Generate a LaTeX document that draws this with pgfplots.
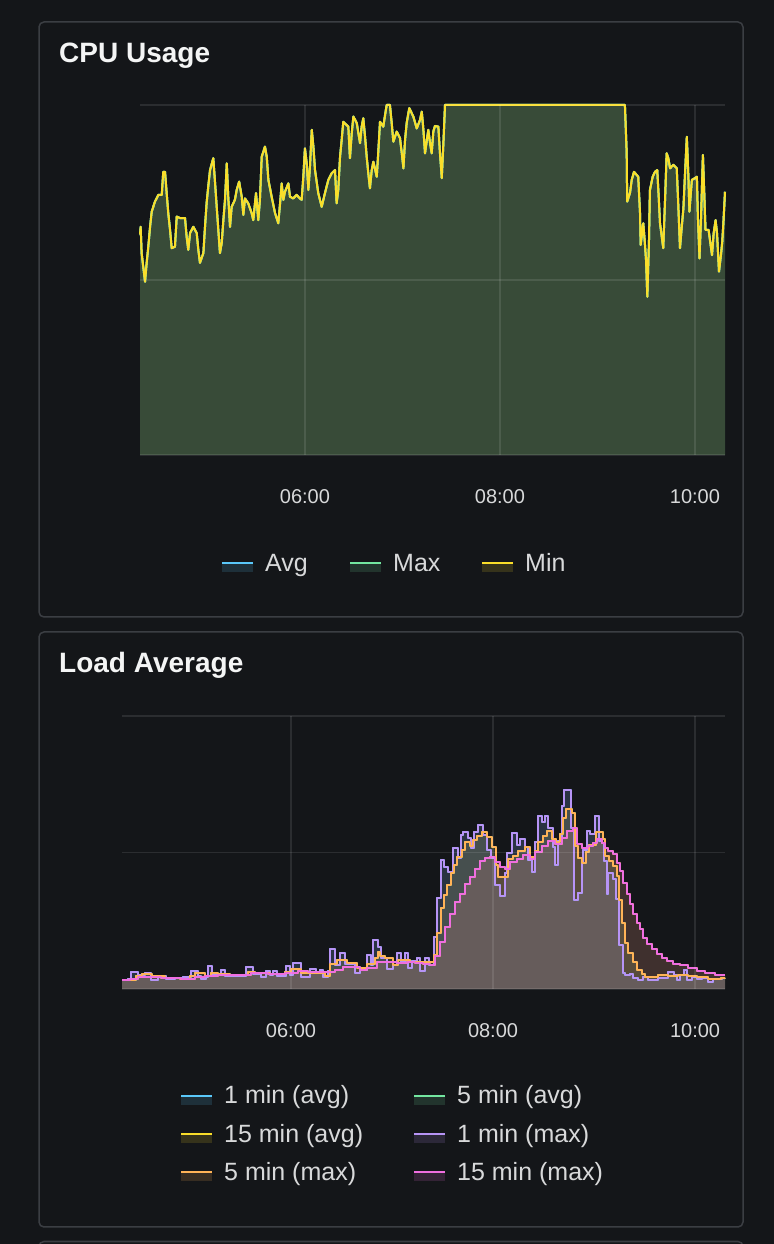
\documentclass[border=0pt]{standalone}
\usepackage{pgfplots}
\pgfplotsset{compat=1.18}
\usepackage{pgfplotstable}
\usepackage{fontspec}
\setmainfont{Liberation Sans}
\definecolor{bgc}{HTML}{141619}
\definecolor{panelborder}{HTML}{3B3E43}
\definecolor{cblue}{HTML}{5AC8FA}
\definecolor{cgreen}{HTML}{73E6A0}
\definecolor{cyellow}{HTML}{FADE2A}
\definecolor{cpurple}{HTML}{B794F6}
\definecolor{corange}{HTML}{FFB357}
\definecolor{cpink}{HTML}{F06EE0}
\definecolor{ticktext}{HTML}{D8D9DA}
\definecolor{titletext}{HTML}{F4F5F5}

% CPU usage (%), time in minutes after 04:00
\pgfplotstableread{
t v
18.5 63.0
18.9 65.2
19.5 57.7
20.5 53.8
21.6 49.5
22.6 54.9
23.6 59.5
24.7 65.2
25.7 69.5
27.7 72.4
29.8 74.3
31.9 74.3
32.8 80.9
33.9 80.9
34.9 74.9
35.9 69.1
37.0 64.3
38.0 59.1
40.0 59.5
41.1 68.1
43.1 67.7
46.2 67.7
47.2 62.4
48.2 58.6
49.3 63.4
51.3 65.2
53.4 63.4
54.4 58.6
55.4 54.9
57.5 57.7
58.5 65.2
59.5 72.0
60.5 76.7
61.6 81.4
63.6 84.8
64.7 77.7
65.7 70.9
66.7 64.3
67.7 57.7
68.8 60.6
69.8 67.1
70.8 72.9
71.9 83.3
72.8 73.8
73.9 65.2
74.9 70.9
76.9 72.9
78.0 75.7
79.5 78.1
81.1 73.8
82.1 68.6
83.1 73.3
85.1 71.9
87.2 69.1
88.2 67.1
89.9 74.8
91.3 67.1
92.3 72.9
93.4 85.2
95.4 88.1
96.5 85.2
97.5 78.6
99.5 73.8
101.6 69.1
103.6 66.2
104.7 71.9
105.7 77.6
106.7 72.9
107.7 75.2
109.8 77.6
110.8 73.8
112.8 73.3
114.9 74.3
116.9 73.3
118.0 72.9
119.0 79.5
120.0 87.6
121.1 83.3
122.1 75.7
123.1 82.4
124.2 92.9
125.2 88.1
126.2 81.4
128.2 74.8
130.3 70.9
132.3 74.8
134.4 78.6
136.5 80.5
138.5 81.4
139.5 71.9
140.5 75.7
141.6 85.2
142.6 90.0
143.6 95.2
146.7 93.8
147.7 84.8
148.8 91.9
149.8 96.7
151.9 94.8
153.9 89.1
154.9 93.8
155.9 96.2
157.0 90.9
158.0 85.2
159.0 80.5
160.0 76.2
161.1 81.4
162.1 83.8
164.2 79.5
165.2 87.1
166.2 95.2
168.2 93.8
169.3 97.1
170.3 100
172.3 100
173.4 94.8
174.4 89.5
176.5 92.4
178.5 90.5
179.6 86.2
180.6 81.9
181.6 90.0
182.6 94.8
184.2 99.1
186.7 96.7
188.8 93.3
190.8 95.7
191.9 98.1
192.9 92.9
193.9 86.2
195.9 92.9
197.0 89.1
198.0 86.2
199.0 92.4
200.0 94.0
202.1 93.8
203.1 86.2
204.2 79.1
205.2 89.1
206.2 100
316.9 100
318.0 86.2
318.3 72.4
320.0 74.8
321.1 78.6
322.5 80.9
325.1 79.5
326.2 69.1
326.6 60.0
328.2 66.2
329.2 60.5
329.9 55.7
330.7 45.2
331.7 60.9
332.3 75.7
334.0 79.5
335.4 80.9
336.8 81.4
337.7 73.8
338.5 66.2
340.5 59.1
341.6 72.9
342.6 86.2
343.6 84.8
344.7 81.9
346.7 82.9
348.8 81.9
349.8 70.9
350.8 59.1
351.9 65.2
352.9 70.5
353.9 80.5
355.0 90.9
356.0 79.1
356.6 69.5
358.1 78.6
360.1 79.1
361.2 79.5
361.8 68.1
362.8 56.2
363.7 67.1
364.9 85.7
365.7 75.2
366.5 64.3
368.4 64.3
369.4 60.9
370.5 57.1
371.5 63.3
372.7 67.1
373.6 63.3
374.8 52.4
376.0 57.1
376.8 60.9
377.6 67.1
378.5 75.2
}\cputable

% Load, 1 min (max)
\pgfplotstableread{
t v
19.6 0.33
23.2 0.37
25.0 0.61
29.1 0.51
33.3 0.57
36.8 0.33
41.0 0.44
42.8 0.49
45.8 0.37
51.1 0.40
55.8 0.44
60.6 0.66
64.8 0.48
66.5 0.35
69.5 0.44
70.7 0.85
73.1 0.51
78.4 0.70
80.8 0.49
93.3 0.79
97.4 0.55
102.2 0.43
105.2 0.66
107.5 0.51
109.3 0.66
111.7 0.49
117.0 0.84
119.4 0.51
121.2 0.94
125.9 0.45
131.3 0.75
134.9 0.62
137.2 0.70
139.0 0.45
142.0 0.66
143.2 1.48
146.1 0.88
149.1 1.31
152.1 0.90
158.0 0.57
161.0 0.70
165.1 1.25
167.5 0.88
168.7 1.79
171.7 1.55
173.5 1.12
177.0 0.75
180.6 0.88
183.0 1.31
185.3 0.99
187.7 1.31
189.5 0.78
191.9 1.03
194.8 1.12
196.6 0.67
199.6 1.15
202.0 0.88
204.9 1.92
206.7 3.32
209.1 4.73
210.9 4.48
213.3 4.30
216.2 5.15
219.2 4.79
221.0 5.64
222.2 5.76
225.1 5.53
226.9 5.15
228.7 5.76
231.1 6.01
234.0 5.64
236.4 5.09
238.8 4.79
241.2 3.82
244.1 3.39
247.1 4.24
248.3 4.97
251.3 5.70
254.2 5.27
256.0 5.51
259.0 5.21
260.8 4.73
263.2 4.30
264.9 5.40
266.7 6.32
269.1 6.13
270.9 6.32
272.7 5.89
275.6 5.21
276.8 4.54
278.6 5.42
281.0 6.70
282.2 7.28
286.3 5.91
288.1 3.26
290.5 3.50
292.9 4.60
293.5 5.09
295.8 5.79
297.6 5.67
300.6 6.34
303.0 5.42
304.7 5.35
305.9 4.69
307.7 3.47
308.3 4.26
311.3 4.02
313.1 3.29
314.9 1.61
317.2 0.57
318.4 0.51
321.4 0.55
323.1 0.39
326.1 0.33
329.1 0.45
332.1 0.33
338.0 0.39
343.9 0.63
347.5 0.51
349.3 0.33
351.1 0.51
353.4 0.70
355.2 0.33
358.2 0.44
361.2 0.38
364.1 0.39
367.7 0.27
370.7 0.35
376.0 0.39
377.8 0.39
}\loadone

% Load, 5 min (max)
\pgfplotstableread{
t v
19.6 0.33
27.9 0.48
31.5 0.54
37.4 0.46
45.2 0.40
54.1 0.38
60.0 0.48
63.0 0.57
68.9 0.49
72.5 0.57
76.6 0.55
83.8 0.51
94.5 0.63
98.6 0.57
107.5 0.55
116.4 0.62
120.0 0.72
125.9 0.57
134.3 0.59
140.2 0.49
143.2 0.90
147.3 1.06
153.3 0.94
159.2 0.77
165.1 0.90
169.9 1.12
171.7 1.34
172.9 1.21
175.8 1.12
180.6 0.88
183.6 1.06
190.7 1.00
204.9 1.25
206.7 2.05
209.1 2.96
210.9 3.44
212.7 3.81
215.0 4.24
216.8 4.54
218.6 4.85
221.6 5.09
223.4 5.40
226.3 5.24
228.1 5.46
230.5 5.60
233.5 5.76
236.4 5.58
239.4 5.21
241.8 4.54
243.0 4.11
248.9 4.76
251.9 4.88
254.8 5.07
259.0 5.19
262.0 4.82
264.9 5.07
266.7 5.38
269.7 5.62
272.1 5.80
275.0 5.49
277.4 5.37
279.8 5.67
281.6 6.28
283.4 6.59
286.9 6.46
288.7 5.24
290.5 4.81
292.9 4.63
295.2 5.00
297.0 5.27
301.2 5.76
305.3 5.49
306.5 4.88
308.9 4.70
311.3 4.51
313.6 4.15
314.9 3.26
316.6 2.41
318.4 1.67
320.2 1.31
323.1 1.00
325.5 0.70
328.5 0.55
330.3 0.45
338.0 0.51
343.9 0.46
349.9 0.51
355.8 0.46
361.2 0.44
367.7 0.36
375.4 0.39
377.8 0.40
}\loadfive

% Load, 15 min (max)
\pgfplotstableread{
t v
19.6 0.33
24.4 0.37
29.1 0.43
35.1 0.45
42.8 0.39
54.7 0.37
63.0 0.43
68.9 0.48
76.6 0.51
86.7 0.52
96.2 0.57
106.3 0.55
116.4 0.57
124.2 0.67
130.1 0.61
140.2 0.63
146.1 0.71
150.9 0.81
156.8 0.81
161.0 0.70
165.1 0.76
171.1 0.98
177.0 1.00
183.0 0.94
188.9 1.00
193.7 0.97
198.4 0.92
202.6 0.88
205.5 1.21
208.5 1.72
211.5 2.27
214.4 2.76
217.4 3.18
220.4 3.49
223.4 3.85
226.3 4.09
229.3 4.40
232.3 4.68
235.2 4.80
238.2 4.82
241.2 4.64
244.1 4.48
247.1 4.40
250.1 4.64
254.2 4.76
257.8 4.92
262.0 4.76
264.9 5.00
269.1 5.24
272.7 5.42
276.8 5.30
281.0 5.54
284.0 5.78
287.5 5.90
289.9 5.30
292.9 5.17
296.4 5.23
299.4 5.35
301.8 5.48
304.7 5.35
306.5 5.17
308.3 5.05
311.3 4.93
313.6 4.63
315.4 4.32
317.2 3.89
319.6 3.47
321.4 3.10
323.1 2.74
325.5 2.43
327.3 2.19
329.1 1.88
331.5 1.64
334.4 1.46
337.4 1.27
340.4 1.15
343.4 1.03
346.9 0.93
351.1 0.88
355.8 0.76
361.2 0.67
365.9 0.57
371.9 0.51
377.8 0.51
}\loadfifteen

\pgfplotsset{
  leg/.style={legend image code/.code={
      \fill[#1, fill opacity=0.15, draw=none] (0bp,-9bp) rectangle (31bp,0bp);
      \draw[#1, draw opacity=1, line width=2bp] (0bp,0bp) -- (31bp,0bp);
  }},
  area/.style={draw=none, fill=#1, fill opacity=0.1, forget plot},
  series/.style={draw=#1, line width=2bp, line join=round, leg=#1},
  dash axis/.style={
    scale only axis, clip=false, axis on top,
    axis line style={draw=none}, major tick length=0pt,
    xmajorgrids, ymajorgrids,
    grid style={white, opacity=0.1, line width=1.5bp},
    yticklabels={},
    xtick={120,240,360}, xticklabels={06:00,08:00,10:00},
    xticklabel style={font=\fontsize{20bp}{24bp}\selectfont, text=ticktext, anchor=base, yshift=-49bp},
    legend cell align=left,
    legend style={draw=none, fill=none, text=ticktext,
      font=\fontsize{25bp}{29bp}\selectfont,
      nodes={inner sep=0pt}, column sep=11bp, row sep=18.5bp},
  },
}

\begin{document}
\begin{tikzpicture}[x=1bp,y=1bp]
\path[use as bounding box, fill=bgc] (0,0) rectangle (774,1244);
\draw[panelborder, line width=1.5bp, rounded corners=5bp] (39,627) rectangle (743,1222);
\draw[panelborder, line width=1.5bp, rounded corners=5bp] (39,17) rectangle (743,612);
\begin{scope}
\clip (0,0) rectangle (774,1244);
\draw[panelborder, line width=1.5bp, rounded corners=5bp] (39,-40) rectangle (743,2.5);
\end{scope}
\node[anchor=base west, inner sep=0pt, text=titletext, font=\bfseries\fontsize{28bp}{32bp}\selectfont] at (59,1181) {CPU Usage};
\node[anchor=base west, inner sep=0pt, text=titletext, font=\bfseries\fontsize{28bp}{32bp}\selectfont] at (59,571) {Load Average};

\begin{axis}[dash axis,
  at={(140bp,789bp)}, anchor=south west,
  width=585bp, height=350bp,
  xmin=18.5, xmax=378.5, ymin=0, ymax=100, ytick={0,50,100},
  legend columns=3,
  legend style={at={(0.1334,-0.31)}, anchor=west},
]
\addplot[area=cblue] table[x=t,y=v] {\cputable} \closedcycle;
\addplot[area=cgreen] table[x=t,y=v] {\cputable} \closedcycle;
\addplot[area=cyellow] table[x=t,y=v] {\cputable} \closedcycle;
\addplot[series=cblue] table[x=t,y=v] {\cputable};
\addlegendentry{\makebox[73bp][l]{Avg}}
\addplot[series=cgreen] table[x=t,y=v] {\cputable};
\addlegendentry{\makebox[77bp][l]{Max}}
\addplot[series=cyellow] table[x=t,y=v] {\cputable};
\addlegendentry{Min}
\end{axis}

\begin{axis}[dash axis,
  at={(122bp,255bp)}, anchor=south west,
  width=603bp, height=273bp,
  xmin=19.6, xmax=377.8, ymin=0, ymax=10, ytick={0,5,10},
  legend columns=2,
  legend style={at={(0.0912,-0.53)}, anchor=west},
]
\addplot[area=cblue, const plot] table[x=t,y=v] {\loadone} \closedcycle;
\addplot[area=cgreen, const plot] table[x=t,y=v] {\loadfive} \closedcycle;
\addplot[area=cyellow, const plot] table[x=t,y=v] {\loadfifteen} \closedcycle;
\addplot[area=cpurple, const plot] table[x=t,y=v] {\loadone} \closedcycle;
\addplot[area=corange, const plot] table[x=t,y=v] {\loadfive} \closedcycle;
\addplot[area=cpink, const plot] table[x=t,y=v] {\loadfifteen} \closedcycle;
\addplot[series=cblue, const plot] table[x=t,y=v] {\loadone};
\addlegendentry{\makebox[178bp][l]{1 min (avg)}}
\addplot[series=cgreen, const plot] table[x=t,y=v] {\loadfive};
\addlegendentry{5 min (avg)}
\addplot[series=cyellow, const plot] table[x=t,y=v] {\loadfifteen};
\addlegendentry{\makebox[178bp][l]{15 min (avg)}}
\addplot[series=cpurple, const plot] table[x=t,y=v] {\loadone};
\addlegendentry{1 min (max)}
\addplot[series=corange, const plot] table[x=t,y=v] {\loadfive};
\addlegendentry{\makebox[178bp][l]{5 min (max)}}
\addplot[series=cpink, const plot] table[x=t,y=v] {\loadfifteen};
\addlegendentry{15 min (max)}
\end{axis}
\end{tikzpicture}
\end{document}
